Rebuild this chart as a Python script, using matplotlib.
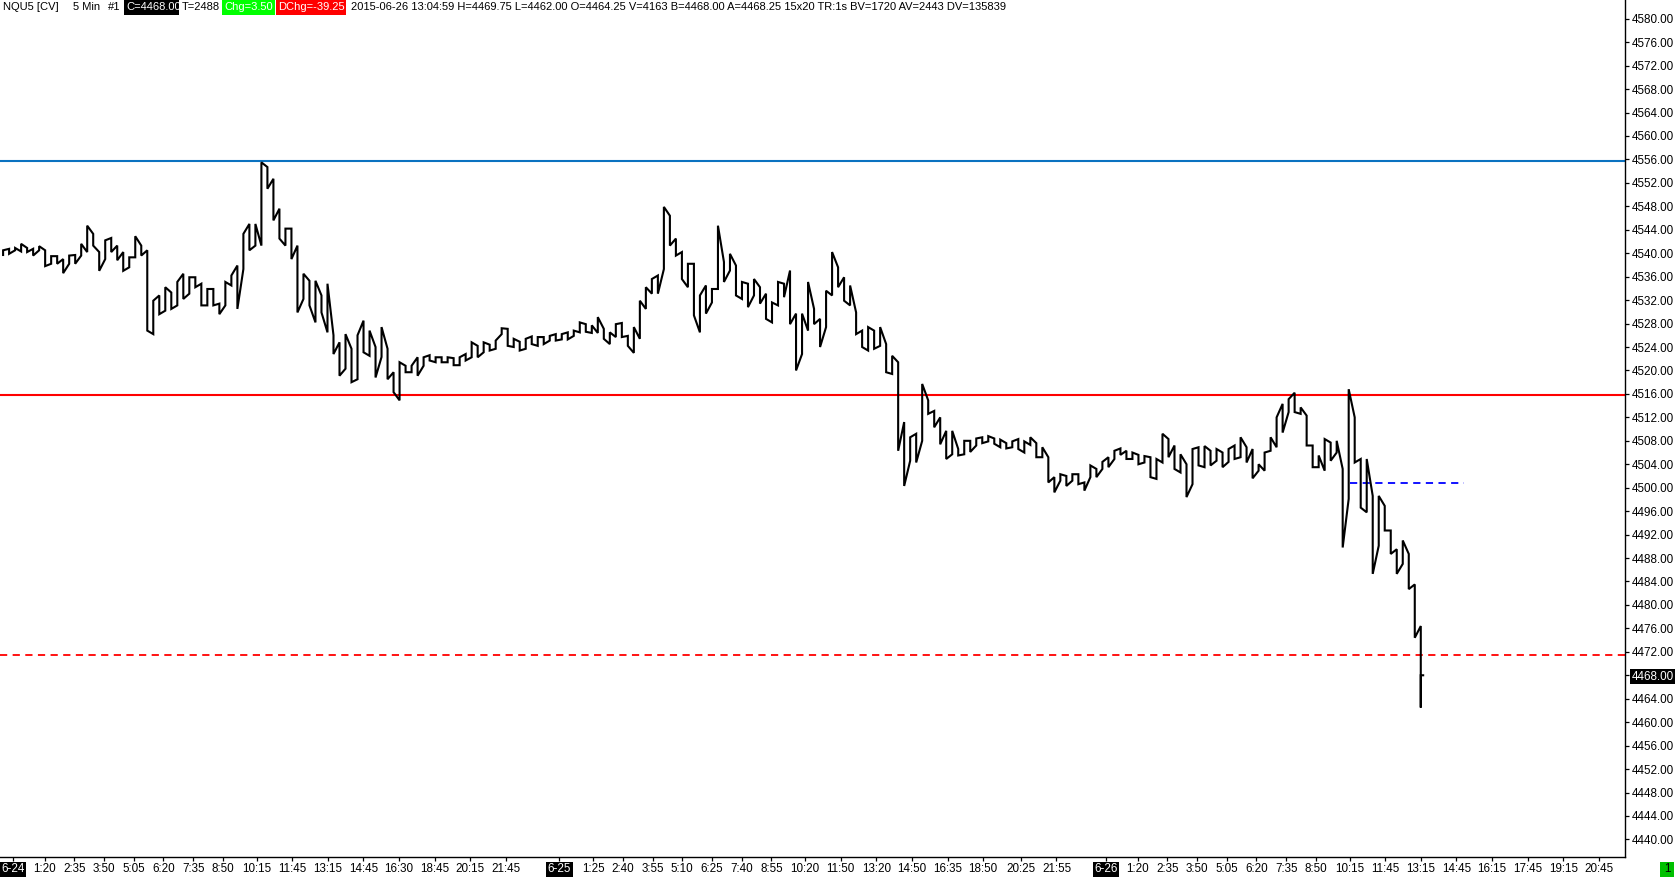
import numpy as np
import matplotlib
matplotlib.use("Agg")
import matplotlib.pyplot as plt
from matplotlib import font_manager as fm
from matplotlib.patches import Rectangle

# ---------------- data ----------------
# high / low of the price path in consecutive groups of ~3 five-minute bars
hi = [
    4540.5, 4540.75, 4540.9, 4541.6, 4540.9, 4540.75, 4541.2, 4540.5, 4539.5, 4539.5,
    4539.0, 4539.6, 4539.7, 4541.6, 4544.7, 4543.3, 4540.2, 4542.2, 4542.6, 4541.3,
    4540.2, 4539.3, 4542.9, 4541.3, 4540.5, 4531.9, 4532.8, 4534.2, 4533.3, 4535.1,
    4536.5, 4535.9, 4535.9, 4534.8, 4533.9, 4533.9, 4531.4, 4535.1, 4536.2, 4537.9,
    4543.3, 4545.0, 4545.0, 4555.5, 4554.7, 4552.7, 4547.6, 4544.2, 4544.2, 4541.3,
    4536.5, 4535.3, 4535.3, 4532.8, 4534.8, 4526.0, 4524.8, 4526.2, 4523.7, 4526.0,
    4528.5, 4526.8, 4524.0, 4527.4, 4523.7, 4519.7, 4521.4, 4520.8, 4520.8, 4522.25,
    4522.25, 4522.6, 4522.25, 4522.25, 4522.25, 4522.1, 4522.25, 4522.8, 4524.8, 4524.2,
    4524.8, 4524.4, 4525.1, 4527.2, 4527.1, 4525.4, 4524.9, 4525.4, 4525.8, 4525.7,
    4525.7, 4525.9, 4526.2, 4526.2, 4526.5, 4526.8, 4528.2, 4527.9, 4527.7, 4529.1,
    4527.1, 4526.5, 4527.9, 4528.1, 4525.9, 4527.4, 4531.9, 4534.2, 4535.6, 4536.2,
    4547.9, 4546.4, 4542.5, 4540.2, 4538.2, 4538.2, 4532.8, 4534.5, 4533.9, 4544.7,
    4538.5, 4539.9, 4537.9, 4535.1, 4534.8, 4535.6, 4534.2, 4533.1, 4531.6, 4535.1,
    4534.8, 4537.05, 4529.7, 4529.7, 4535.1, 4530.5, 4528.8, 4533.6, 4540.2, 4537.6,
    4535.9, 4534.5, 4529.9, 4526.8, 4527.4, 4526.8, 4527.4, 4524.5, 4522.5, 4521.4,
    4511.2, 4508.6, 4509.2, 4517.7, 4514.9, 4513.1, 4512.0, 4509.7, 4509.7, 4506.6,
    4508.0, 4508.0, 4508.4, 4508.6, 4508.8, 4508.4, 4508.2, 4507.6, 4507.9, 4508.3,
    4507.9, 4508.6, 4507.6, 4506.9, 4505.2, 4501.8, 4502.3, 4502.0, 4502.3, 4502.3,
    4500.9, 4503.8, 4503.2, 4504.4, 4505.2, 4506.3, 4506.7, 4506.3, 4506.0, 4505.6,
    4505.4, 4505.2, 4504.9, 4509.2, 4508.3, 4507.2, 4505.7, 4504.0, 4506.6, 4506.9,
    4507.1, 4506.3, 4506.6, 4506.0, 4506.6, 4507.2, 4508.6, 4506.9, 4506.6, 4504.0,
    4506.0, 4508.6, 4512.0, 4514.3, 4515.1, 4516.2, 4513.7, 4512.3, 4507.2, 4505.5,
    4508.3, 4507.7, 4508.0, 4503.2, 4516.8, 4512.0, 4504.9, 4504.9, 4498.6, 4498.6,
    4496.9, 4492.7, 4489.5, 4491.0, 4488.7, 4483.5, 4476.4,
]
lo = [
    4539.7, 4539.9, 4540.5, 4540.3, 4540.2, 4539.6, 4540.5, 4537.8, 4538.2, 4538.2,
    4536.6, 4538.2, 4538.2, 4539.6, 4540.2, 4541.3, 4537.0, 4539.0, 4540.2, 4538.8,
    4537.0, 4537.6, 4539.3, 4539.6, 4526.8, 4526.2, 4529.6, 4530.2, 4530.5, 4531.1,
    4532.2, 4533.1, 4534.2, 4531.1, 4531.1, 4531.1, 4529.6, 4531.1, 4534.5, 4530.5,
    4537.3, 4540.5, 4541.3, 4541.3, 4551.0, 4545.6, 4542.5, 4541.3, 4539.0, 4529.9,
    4532.2, 4531.1, 4528.2, 4529.9, 4526.5, 4522.8, 4519.1, 4520.3, 4518.0, 4518.5,
    4523.1, 4522.5, 4518.8, 4522.3, 4518.5, 4516.3, 4514.9, 4519.7, 4519.7, 4519.1,
    4520.8, 4521.7, 4521.4, 4521.4, 4521.4, 4520.9, 4520.9, 4521.7, 4522.25, 4522.25,
    4523.1, 4523.4, 4523.7, 4526.2, 4524.2, 4524.0, 4523.4, 4523.7, 4524.5, 4524.2,
    4524.5, 4525.1, 4525.1, 4525.3, 4525.3, 4525.9, 4526.5, 4526.6, 4526.4, 4526.4,
    4525.4, 4524.5, 4525.7, 4525.7, 4524.2, 4523.0, 4525.4, 4530.5, 4533.1, 4533.1,
    4537.3, 4541.3, 4539.6, 4535.6, 4534.2, 4529.4, 4526.5, 4529.7, 4531.6, 4533.9,
    4535.1, 4537.05, 4532.8, 4532.2, 4530.8, 4532.8, 4531.4, 4528.8, 4528.2, 4531.1,
    4532.5, 4527.9, 4520.0, 4522.8, 4526.8, 4527.9, 4524.0, 4527.4, 4532.8, 4534.2,
    4531.9, 4531.1, 4526.2, 4524.0, 4523.4, 4523.7, 4524.2, 4519.7, 4519.4, 4506.3,
    4500.3, 4504.6, 4504.3, 4508.0, 4512.6, 4510.3, 4507.4, 4504.9, 4505.7, 4505.5,
    4505.7, 4506.1, 4507.2, 4507.6, 4507.9, 4507.5, 4506.9, 4506.7, 4506.9, 4506.6,
    4506.0, 4507.3, 4505.2, 4505.2, 4500.9, 4499.2, 4501.2, 4500.3, 4501.2, 4500.6,
    4499.5, 4501.8, 4501.8, 4503.2, 4503.5, 4504.9, 4505.6, 4504.9, 4504.9, 4504.0,
    4504.3, 4501.8, 4501.5, 4504.3, 4505.2, 4503.2, 4502.6, 4498.4, 4500.6, 4503.8,
    4503.5, 4503.8, 4504.6, 4503.5, 4504.4, 4504.9, 4505.2, 4504.3, 4501.6, 4502.9,
    4502.9, 4506.3, 4506.9, 4509.4, 4512.9, 4512.9, 4512.6, 4507.2, 4503.5, 4503.5,
    4502.9, 4504.6, 4506.0, 4489.8, 4498.1, 4504.3, 4496.6, 4495.8, 4485.3, 4490.1,
    4492.7, 4488.7, 4485.3, 4487.0, 4482.7, 4474.4, 4462.5,
]
last_close = 4468.00

# horizontal reference lines
blue_line = 4555.75
red_line = 4515.75
red_dash = 4471.5
blue_dash = 4500.75

# axis labels
days = ["6-24", "6-25", "6-26"]
day_times = [
    ["1:20", "2:35", "3:50", "5:05", "6:20", "7:35", "8:50", "10:15", "11:45",
     "13:15", "14:45", "16:30", "18:45", "20:15", "21:45"],
    ["1:25", "2:40", "3:55", "5:10", "6:25", "7:40", "8:55", "10:20", "11:50",
     "13:20", "14:50", "16:35", "18:50", "20:25", "21:55"],
    ["1:20", "2:35", "3:50", "5:05", "6:20", "7:35", "8:50", "10:15", "11:45",
     "13:15", "14:45", "16:15", "17:45", "19:15", "20:45"],
]
y_ticks = list(range(4440, 4581, 4))

header_parts = [
    ("NQU5 [CV]", None), ("5 Min", None), ("#1", None),
    ("C=4468.00", "black"), ("T=2488", None), ("Chg=3.50", "#00FF00"),
    ("DChg=-39.25", "#FF0000"),
    ("2015-06-26 13:04:59 H=4469.75 L=4462.00 O=4464.25 V=4163 B=4468.00 "
     "A=4468.25 15x20 TR:1s BV=1720 AV=2443 DV=135839", None),
]

# ---------------- layout helpers ----------------
BARS_PER_DAY = 276        # 23h session of 5-min bars
FIRST_BAR, LAST_BAR = -5, 711


def bar_index(day, hhmm, live=True):
    h, m = map(int, hhmm.split(":"))
    mins = h * 60 + m
    n = mins // 5
    if live:
        if mins >= 16 * 60 + 30:
            n -= 3
        if mins >= 18 * 60:
            n -= 9
    return day * BARS_PER_DAY + n


avail = {f.name for f in fm.fontManager.ttflist}
FONT = next((f for f in ["Liberation Sans Narrow", "DejaVu Sans Condensed",
                         "Liberation Sans", "DejaVu Sans"] if f in avail), "DejaVu Sans")
plt.rcParams["font.family"] = [FONT, "DejaVu Sans"]
FS = 8.4
FS_HEAD = 8.05

W, H = 1676, 877
fig = plt.figure(figsize=(W / 100, H / 100), dpi=100)
fig.patch.set_facecolor("white")
ax = fig.add_axes([0, 20 / H, 1625 / W, 1 - 20 / H])

# ---------------- price path (jagged bars) ----------------
xs = np.linspace(FIRST_BAR, LAST_BAR, len(hi))
px, py = [], []
prev = lo[0]
for xi, h, l in zip(xs, hi, lo):
    if abs(h - prev) <= abs(l - prev):
        a, b = h, l
    else:
        a, b = l, h
    px += [xi, xi]
    py += [a, b]
    prev = b
px += [xs[-1], xs[-1] + 1.2]
py += [last_close, last_close]
ax.plot(px, py, color="black", lw=1.5, solid_joinstyle="miter", zorder=3)

# ---------------- lines ----------------
ax.axhline(blue_line, color="#0A72C0", lw=1.5, zorder=2)
ax.axhline(red_line, color="#FF0000", lw=1.5, zorder=2)
ax.axhline(red_dash, color="#FF0000", lw=1.3, ls=(0, (4, 3)), zorder=2)
ax.plot([bar_index(2, "10:15"), bar_index(2, "15:05", live=False)], [blue_dash, blue_dash],
        color="#0000FF", lw=1.3, ls=(0, (4, 3)), zorder=2)

# ---------------- axes ----------------
ax.set_xlim(-13 / 1.98, (1625 - 13) / 1.98)
ax.set_ylim(4437.0, 4583.2)
for s in ["left", "top"]:
    ax.spines[s].set_visible(False)
for s in ["right", "bottom"]:
    ax.spines[s].set_linewidth(1.0)
    ax.spines[s].set_color("black")

ax.yaxis.tick_right()
ax.set_yticks(y_ticks)
ax.set_yticklabels([f"{v:.2f}" for v in y_ticks])
ax.tick_params(axis="y", direction="out", length=3, width=0.9, pad=1.5,
               labelsize=FS, colors="black")
for t in ax.get_yticklabels():
    if t.get_text() == f"{last_close:.2f}":
        t.set_color("white")
        t.set_bbox(dict(boxstyle="square,pad=0.12", fc="black", ec="none"))

xt, xl = [], []
for d, (dname, times) in enumerate(zip(days, day_times)):
    xt.append(bar_index(d, "0:00"))
    xl.append(dname)
    for tm in times:
        hh, mm = map(int, tm.split(":"))
        live = not (d == 2 and hh * 60 + mm > 13 * 60 + 5)
        xt.append(bar_index(d, tm, live=live))
        xl.append(tm)
ax.set_xticks(xt)
ax.set_xticklabels(xl)
ax.tick_params(axis="x", direction="out", length=3, width=0.9, pad=1.5,
               labelsize=FS, colors="black")
for t in ax.get_xticklabels():
    if "-" in t.get_text():
        t.set_color("white")
        t.set_bbox(dict(boxstyle="square,pad=0.15", fc="black", ec="none"))


# ---------------- header ----------------
def fx(p):
    return p / W


def fy(p):
    return 1 - p / H


hx = [3, 73, 108, 126, 182, 224, 278, 351]
boxes = {3: (124, 179), 5: (222, 275), 6: (276, 346)}
for i, ((txt, bg), x0) in enumerate(zip(header_parts, hx)):
    col = "black" if bg is None else "white"
    if i in boxes:
        b0, b1 = boxes[i]
        fig.patches.append(Rectangle((fx(b0), fy(15)), fx(b1 - b0), 15 / H,
                                     transform=fig.transFigure, fc=bg, ec="none", zorder=1))
    fig.text(fx(x0), fy(7.5), txt, ha="left", va="center", fontsize=FS_HEAD, color=col, zorder=2)

# green status box bottom right
fig.patches.append(Rectangle((fx(1660), fy(877)), fx(14), 15 / H,
                             transform=fig.transFigure, fc="#00C000", ec="none"))
fig.text(fx(1667), fy(869), "1", ha="center", va="center", fontsize=FS, color="black")

fig.savefig("out.png", dpi=100, facecolor="white")
